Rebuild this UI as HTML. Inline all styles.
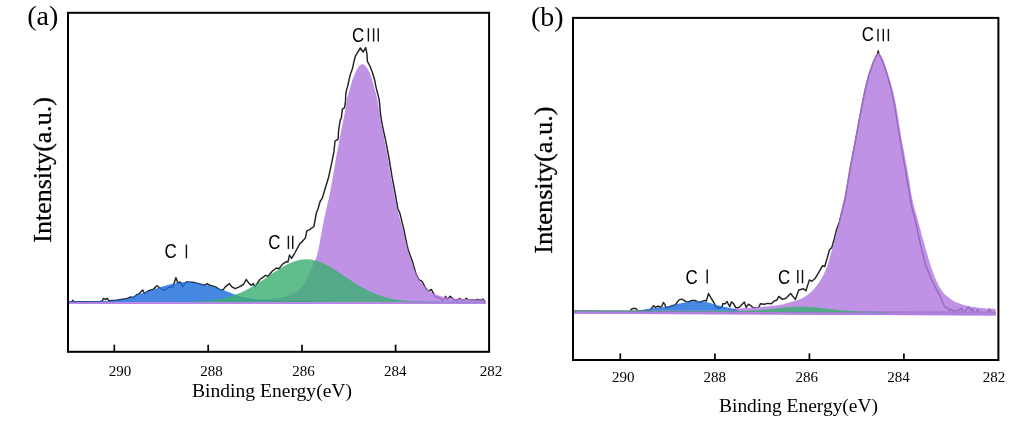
<!DOCTYPE html>
<html><head><meta charset="utf-8"><title>XPS C1s spectra</title>
<style>html,body{margin:0;padding:0;background:#fff;}svg{display:block;}text{fill:#000;}</style>
</head><body>
<svg width="1020" height="425" viewBox="0 0 1020 425">
<rect x="0" y="0" width="1020" height="425" fill="#ffffff"/>
<polyline points="69.0,301.9 72.0,301.8 72.7,300.2 73.6,301.8 99.5,301.8 102.3,301.0 103.5,298.4 105.2,299.5 107.3,298.4 108.7,300.6 116.4,300.2 126.3,298.8 130.6,297.0 133.4,297.8 136.9,294.6 139.0,293.9 142.6,289.9 144.7,293.9 147.5,291.3 150.3,290.3 153.1,289.4 157.1,285.7 160.2,288.2 164.4,290.3 168.7,287.5 172.9,286.8 176.0,277.6 177.8,283.3 180.0,281.9 182.8,286.8 186.3,281.9 192.7,282.3 196.5,283.2 204.7,285.3 207.2,283.6 209.6,285.3 215.4,286.9 219.5,289.4 222.8,290.2 225.3,286.9 229.4,283.6 231.9,286.9 235.2,288.6 239.3,286.9 243.4,284.5 246.2,279.5 249.2,283.6 251.6,285.3 253.3,283.6 254.9,286.9 259.9,279.5 265.6,275.4 268.1,276.2 272.2,271.3 276.4,268.0 278.8,268.8 282.9,263.9 286.4,261.6 287.9,262.2 289.5,255.1 291.6,258.3 294.8,253.0 298.6,245.8 300.1,243.4 302.2,241.6 305.4,238.1 306.8,230.9 309.7,229.7 313.9,226.5 316.4,212.7 318.1,208.5 320.1,201.5 322.2,198.4 325.4,187.8 328.6,177.2 331.8,162.4 333.9,151.8 335.0,141.2 338.1,139.1 338.6,130.6 340.2,120.0 341.3,118.4 342.4,108.8 344.5,107.8 345.5,101.4 345.8,93.6 346.7,89.4 347.6,86.6 349.1,79.5 350.5,73.9 352.6,68.2 354.0,61.2 355.4,56.2 358.2,51.3 360.4,48.0 363.2,52.0 365.7,47.6 367.0,54.1 367.4,61.2 370.2,66.8 372.4,72.5 374.5,79.5 375.9,86.6 377.7,93.6 379.1,99.3 379.6,103.5 380.5,114.1 382.2,124.7 385.8,141.2 389.0,158.1 392.1,177.2 395.3,194.1 397.9,209.0 399.7,212.7 403.9,229.7 407.1,245.5 408.2,249.8 412.4,261.4 416.3,274.7 418.8,279.6 422.1,281.3 425.0,287.1 428.4,291.2 431.5,289.5 433.6,293.6 435.3,297.0 440.8,298.4 442.2,300.4 444.6,298.7 445.6,296.3 447.0,299.4 448.7,298.0 450.0,296.3 452.5,298.4 453.8,300.4 457.9,300.1 459.7,298.4 460.7,299.8 464.8,299.8 466.5,298.2 467.9,299.8 476.5,300.0 477.8,299.3 479.2,300.0 481.6,300.0 483.0,299.1 484.7,301.5" fill="none" stroke="#222222" stroke-width="1.45" stroke-linejoin="round" stroke-linecap="round"/>
<polygon points="68.5,304.0 68.5,302.1 69.5,302.1 70.5,302.1 71.5,302.1 72.5,302.1 73.5,302.1 74.5,302.1 75.5,302.1 76.5,302.1 77.5,302.1 78.5,302.1 79.5,302.1 80.5,302.1 81.5,302.1 82.5,302.1 83.5,302.1 84.5,302.1 85.5,302.1 86.5,302.1 87.5,302.1 88.5,302.1 89.5,302.1 90.5,302.1 91.5,302.1 92.5,302.1 93.5,302.1 94.5,302.1 95.5,302.1 96.5,302.1 97.5,302.1 98.5,302.1 99.5,302.1 100.5,302.1 101.5,302.1 102.5,302.1 103.5,302.1 104.5,302.1 105.5,302.1 106.5,302.1 107.5,302.1 108.5,302.1 109.5,302.1 110.5,302.1 111.5,302.1 112.5,302.1 113.5,302.1 114.5,302.1 115.5,302.1 116.5,302.1 117.5,302.1 118.5,302.1 119.5,302.1 120.5,302.1 121.5,302.1 122.5,302.1 123.5,302.1 124.5,302.1 125.5,302.1 126.5,302.1 127.5,302.1 128.5,302.1 129.5,302.1 130.5,302.1 131.5,302.1 132.5,302.1 133.5,302.1 134.5,302.1 135.5,302.1 136.5,302.1 137.5,302.1 138.5,302.1 139.5,302.1 140.5,302.1 141.5,302.1 142.5,302.1 143.5,302.1 144.5,302.1 145.5,302.1 146.5,302.1 147.5,302.1 148.5,302.1 149.5,302.1 150.5,302.1 151.5,302.1 152.5,302.1 153.5,302.1 154.5,302.1 155.5,302.1 156.5,302.1 157.5,302.1 158.5,302.1 159.5,302.1 160.5,302.1 161.5,302.1 162.5,302.1 163.5,302.1 164.5,302.1 165.5,302.1 166.5,302.1 167.5,302.1 168.5,302.1 169.5,302.1 170.5,302.1 171.5,302.1 172.5,302.1 173.5,302.1 174.5,302.1 175.5,302.1 176.5,302.1 177.5,302.1 178.5,302.0 179.5,302.0 180.5,302.0 181.5,302.0 182.5,302.0 183.5,302.0 184.5,302.0 185.5,302.0 186.5,302.0 187.5,302.0 188.5,302.0 189.5,302.0 190.5,302.0 191.5,302.0 192.5,302.0 193.5,302.0 194.5,302.0 195.5,302.0 196.5,302.0 197.5,302.0 198.5,302.0 199.5,301.9 200.5,301.9 201.5,301.9 202.5,301.9 203.5,301.9 204.5,301.9 205.5,301.9 206.5,301.9 207.5,301.9 208.5,301.9 209.5,301.9 210.5,301.9 211.5,301.9 212.5,301.9 213.5,301.9 214.5,301.8 215.5,301.8 216.5,301.8 217.5,301.8 218.5,301.8 219.5,301.8 220.5,301.8 221.5,301.8 222.5,301.8 223.5,301.8 224.5,301.7 225.5,301.7 226.5,301.7 227.5,301.7 228.5,301.7 229.5,301.6 230.5,301.6 231.5,301.6 232.5,301.5 233.5,301.5 234.5,301.5 235.5,301.4 236.5,301.4 237.5,301.4 238.5,301.3 239.5,301.3 240.5,301.2 241.5,301.2 242.5,301.2 243.5,301.1 244.5,301.1 245.5,301.0 246.5,301.0 247.5,300.9 248.5,300.9 249.5,300.8 250.5,300.8 251.5,300.7 252.5,300.7 253.5,300.6 254.5,300.5 255.5,300.5 256.5,300.4 257.5,300.3 258.5,300.2 259.5,300.2 260.5,300.1 261.5,300.0 262.5,299.9 263.5,299.8 264.5,299.7 265.5,299.6 266.5,299.5 267.5,299.4 268.5,299.2 269.5,299.1 270.5,299.0 271.5,298.9 272.5,298.8 273.5,298.6 274.5,298.5 275.5,298.3 276.5,298.2 277.5,298.0 278.5,297.8 279.5,297.7 280.5,297.5 281.5,297.3 282.5,297.1 283.5,296.8 284.5,296.6 285.5,296.4 286.5,296.1 287.5,295.9 288.5,295.6 289.5,295.3 290.5,294.9 291.5,294.5 292.5,294.1 293.5,293.6 294.5,293.1 295.5,292.6 296.5,292.0 297.5,291.2 298.5,290.4 299.5,289.4 300.5,288.4 301.5,287.3 302.5,286.0 303.5,284.6 304.5,282.9 305.5,281.2 306.5,279.3 307.5,277.4 308.5,275.3 309.5,272.9 310.5,270.5 311.5,268.2 312.5,266.0 313.5,264.1 314.5,262.1 315.5,259.8 316.5,257.0 317.5,253.3 318.5,249.0 319.5,243.9 320.5,238.3 321.5,232.8 322.5,227.4 323.5,221.9 324.5,216.9 325.5,212.5 326.5,208.3 327.5,204.1 328.5,199.7 329.5,195.1 330.5,190.0 331.5,184.6 332.5,178.9 333.5,173.1 334.5,167.0 335.5,161.0 336.5,155.3 337.5,150.0 338.5,144.8 339.5,139.6 340.5,134.4 341.5,129.1 342.5,124.0 343.5,119.1 344.5,114.2 345.5,108.7 346.5,101.6 347.5,96.8 348.5,93.2 349.5,89.9 350.5,86.6 351.5,83.1 352.5,79.8 353.5,77.0 354.5,74.5 355.5,72.3 356.5,70.3 357.5,68.6 358.5,67.1 359.5,65.8 360.5,64.9 361.5,64.2 362.5,64.0 363.5,64.4 364.5,65.1 365.5,66.0 366.5,67.2 367.5,68.7 368.5,70.5 369.5,72.5 370.5,74.9 371.5,77.7 372.5,80.9 373.5,84.7 374.5,88.4 375.5,92.1 376.5,95.9 377.5,100.3 378.5,106.7 379.5,112.9 380.5,118.8 381.5,124.5 382.5,129.9 383.5,135.0 384.5,140.2 385.5,145.4 386.5,150.6 387.5,155.9 388.5,161.6 389.5,167.7 390.5,173.7 391.5,179.4 392.5,184.8 393.5,190.0 394.5,195.1 395.5,200.1 396.5,205.0 397.5,209.4 398.5,213.5 399.5,217.2 400.5,220.9 401.5,224.5 402.5,228.2 403.5,232.1 404.5,236.2 405.5,240.3 406.5,244.3 407.5,248.1 408.5,251.9 409.5,255.5 410.5,258.9 411.5,262.0 412.5,264.7 413.5,267.2 414.5,269.5 415.5,271.8 416.5,274.0 417.5,276.2 418.5,278.2 419.5,280.0 420.5,281.5 421.5,282.9 422.5,284.1 423.5,285.2 424.5,286.3 425.5,287.3 426.5,288.3 427.5,289.2 428.5,290.0 429.5,290.8 430.5,291.6 431.5,292.3 432.5,292.9 433.5,293.5 434.5,294.0 435.5,294.4 436.5,294.8 437.5,295.2 438.5,295.5 439.5,295.8 440.5,296.1 441.5,296.4 442.5,296.6 443.5,296.8 444.5,297.0 445.5,297.2 446.5,297.3 447.5,297.5 448.5,297.6 449.5,297.8 450.5,297.9 451.5,298.0 452.5,298.1 453.5,298.2 454.5,298.3 455.5,298.4 456.5,298.5 457.5,298.6 458.5,298.6 459.5,298.7 460.5,298.8 461.5,298.8 462.5,298.9 463.5,298.9 464.5,298.9 465.5,299.0 466.5,299.0 467.5,299.1 468.5,299.1 469.5,299.2 470.5,299.2 471.5,299.2 472.5,299.3 473.5,299.3 474.5,299.3 475.5,299.4 476.5,299.4 477.5,299.4 478.5,299.5 479.5,299.5 480.5,299.5 481.5,299.5 482.5,299.6 483.5,299.6 485.9,302.6 485.9,304.0" fill="#b17ae1" fill-opacity="0.82"/>
<line x1="68.7" y1="303.1" x2="485.6" y2="303.1" stroke="#b17ae1" stroke-opacity="0.55" stroke-width="1.9"/>
<polygon points="68.5,302.1 68.5,301.2 69.5,301.2 70.5,301.2 71.5,301.2 72.5,301.2 73.5,301.2 74.5,301.2 75.5,301.2 76.5,301.2 77.5,301.2 78.5,301.2 79.5,301.2 80.5,301.2 81.5,301.2 82.5,301.2 83.5,301.2 84.5,301.2 85.5,301.2 86.5,301.2 87.5,301.2 88.5,301.2 89.5,301.2 90.5,301.2 91.5,301.1 92.5,301.1 93.5,301.1 94.5,301.1 95.5,301.1 96.5,301.1 97.5,301.1 98.5,301.1 99.5,301.1 100.5,301.1 101.5,301.1 102.5,301.1 103.5,301.0 104.5,301.0 105.5,301.0 106.5,300.9 107.5,300.9 108.5,300.8 109.5,300.8 110.5,300.7 111.5,300.7 112.5,300.6 113.5,300.5 114.5,300.4 115.5,300.3 116.5,300.2 117.5,300.1 118.5,299.9 119.5,299.8 120.5,299.7 121.5,299.6 122.5,299.4 123.5,299.3 124.5,299.1 125.5,299.0 126.5,298.8 127.5,298.5 128.5,298.2 129.5,297.8 130.5,297.4 131.5,297.0 132.5,296.6 133.5,296.1 134.5,295.7 135.5,295.3 136.5,294.9 137.5,294.6 138.5,294.3 139.5,294.0 140.5,293.7 141.5,293.4 142.5,293.1 143.5,292.8 144.5,292.5 145.5,292.2 146.5,291.9 147.5,291.6 148.5,291.3 149.5,290.9 150.5,290.6 151.5,290.2 152.5,289.8 153.5,289.4 154.5,289.1 155.5,288.7 156.5,288.4 157.5,288.0 158.5,287.7 159.5,287.4 160.5,287.1 161.5,286.8 162.5,286.5 163.5,286.2 164.5,285.9 165.5,285.6 166.5,285.4 167.5,285.1 168.5,284.8 169.5,284.6 170.5,284.3 171.5,284.1 172.5,283.9 173.5,283.7 174.5,283.5 175.5,283.2 176.5,283.0 177.5,282.9 178.5,282.7 179.5,282.6 180.5,282.4 181.5,282.3 182.5,282.2 183.5,282.2 184.5,282.1 185.5,282.0 186.5,282.0 187.5,282.0 188.5,282.0 189.5,282.1 190.5,282.2 191.5,282.3 192.5,282.4 193.5,282.6 194.5,282.7 195.5,282.9 196.5,283.0 197.5,283.2 198.5,283.3 199.5,283.6 200.5,283.8 201.5,284.0 202.5,284.3 203.5,284.5 204.5,284.8 205.5,285.0 206.5,285.2 207.5,285.5 208.5,285.7 209.5,286.0 210.5,286.2 211.5,286.5 212.5,286.8 213.5,287.0 214.5,287.3 215.5,287.6 216.5,287.9 217.5,288.2 218.5,288.5 219.5,288.8 220.5,289.2 221.5,289.5 222.5,289.8 223.5,290.2 224.5,290.6 225.5,290.9 226.5,291.3 227.5,291.7 228.5,292.1 229.5,292.4 230.5,292.8 231.5,293.3 232.5,293.7 233.5,294.1 234.5,294.4 235.5,294.8 236.5,295.1 237.5,295.5 238.5,295.8 239.5,296.1 240.5,296.4 241.5,296.7 242.5,297.0 243.5,297.2 244.5,297.4 245.5,297.6 246.5,297.8 247.5,298.0 248.5,298.1 249.5,298.3 250.5,298.4 251.5,298.5 252.5,298.7 253.5,298.8 254.5,298.9 255.5,299.0 256.5,299.1 257.5,299.2 258.5,299.3 259.5,299.4 260.5,299.5 261.5,299.6 262.5,299.6 263.5,299.7 264.5,299.8 265.5,299.8 266.5,299.9 267.5,300.0 268.5,300.0 269.5,300.1 270.5,300.1 271.5,300.2 272.5,300.2 273.5,300.3 274.5,300.3 275.5,300.4 276.5,300.4 277.5,300.4 278.5,300.5 279.5,300.5 280.5,300.5 281.5,300.6 282.5,300.6 283.5,300.6 284.5,300.7 285.5,300.7 286.5,300.7 287.5,300.7 288.5,300.8 289.5,300.8 290.5,300.8 291.5,300.8 292.5,300.8 293.5,300.9 294.5,300.9 295.5,300.9 296.5,300.9 297.5,300.9 298.5,301.0 299.5,301.0 300.5,301.0 301.5,301.0 302.5,301.1 303.5,301.1 304.5,301.1 305.5,301.1 306.5,301.1 307.5,301.2 308.5,301.2 309.5,301.2 310.5,301.2 311.5,301.2 312.5,301.3 313.5,301.3 314.5,301.3 315.5,301.3 316.5,301.3 317.5,301.3 318.5,301.4 319.5,301.4 320.5,301.4 321.5,301.4 322.5,301.4 323.5,301.5 324.5,301.5 325.5,301.5 326.5,301.5 327.5,301.5 328.5,301.6 329.5,301.6 330.5,301.6 331.5,301.6 332.5,301.7 333.5,301.7 334.5,301.7 335.5,301.7 336.5,301.8 337.5,301.8 338.5,301.8 339.5,301.8 340.5,301.9 341.5,301.9 342.5,301.9 343.5,301.9 344.5,302.0 345.5,302.0 346.5,302.0 347.5,302.0 348.5,302.1 349.5,302.1 349.5,302.1" fill="#1d6ddc" fill-opacity="0.82"/>
<polygon points="170.0,302.1 170.0,302.0 171.0,302.0 172.0,302.0 173.0,302.0 174.0,302.0 175.0,302.0 176.0,302.0 177.0,302.0 178.0,302.0 179.0,301.9 180.0,301.9 181.0,301.9 182.0,301.9 183.0,301.9 184.0,301.9 185.0,301.8 186.0,301.8 187.0,301.8 188.0,301.8 189.0,301.7 190.0,301.7 191.0,301.7 192.0,301.6 193.0,301.6 194.0,301.6 195.0,301.5 196.0,301.5 197.0,301.4 198.0,301.4 199.0,301.3 200.0,301.3 201.0,301.2 202.0,301.1 203.0,301.1 204.0,301.0 205.0,300.9 206.0,300.8 207.0,300.7 208.0,300.6 209.0,300.5 210.0,300.4 211.0,300.3 212.0,300.2 213.0,300.0 214.0,299.9 215.0,299.7 216.0,299.6 217.0,299.4 218.0,299.3 219.0,299.1 220.0,298.9 221.0,298.7 222.0,298.5 223.0,298.3 224.0,298.0 225.0,297.8 226.0,297.6 227.0,297.3 228.0,297.0 229.0,296.8 230.0,296.5 231.0,296.2 232.0,295.8 233.0,295.5 234.0,295.2 235.0,294.8 236.0,294.4 237.0,294.1 238.0,293.7 239.0,293.3 240.0,292.8 241.0,292.4 242.0,292.0 243.0,291.5 244.0,291.0 245.0,290.5 246.0,290.0 247.0,289.5 248.0,289.0 249.0,288.5 250.0,287.9 251.0,287.4 252.0,286.8 253.0,286.2 254.0,285.6 255.0,285.0 256.0,284.4 257.0,283.8 258.0,283.1 259.0,282.5 260.0,281.9 261.0,281.2 262.0,280.5 263.0,279.9 264.0,279.2 265.0,278.5 266.0,277.8 267.0,277.2 268.0,276.5 269.0,275.8 270.0,275.1 271.0,274.4 272.0,273.8 273.0,273.1 274.0,272.4 275.0,271.7 276.0,271.1 277.0,270.4 278.0,269.8 279.0,269.2 280.0,268.5 281.0,267.9 282.0,267.3 283.0,266.7 284.0,266.2 285.0,265.6 286.0,265.1 287.0,264.6 288.0,264.1 289.0,263.6 290.0,263.2 291.0,262.7 292.0,262.3 293.0,261.9 294.0,261.6 295.0,261.2 296.0,260.9 297.0,260.6 298.0,260.4 299.0,260.1 300.0,259.9 301.0,259.7 302.0,259.6 303.0,259.5 304.0,259.4 305.0,259.3 306.0,259.3 307.0,259.3 308.0,259.3 309.0,259.4 310.0,259.5 311.0,259.6 312.0,259.7 313.0,259.9 314.0,260.1 315.0,260.4 316.0,260.6 317.0,260.9 318.0,261.2 319.0,261.6 320.0,261.9 321.0,262.3 322.0,262.7 323.0,263.2 324.0,263.6 325.0,264.1 326.0,264.6 327.0,265.1 328.0,265.6 329.0,266.2 330.0,266.7 331.0,267.3 332.0,267.9 333.0,268.5 334.0,269.2 335.0,269.8 336.0,270.4 337.0,271.1 338.0,271.7 339.0,272.4 340.0,273.1 341.0,273.8 342.0,274.4 343.0,275.1 344.0,275.8 345.0,276.5 346.0,277.2 347.0,277.8 348.0,278.5 349.0,279.2 350.0,279.9 351.0,280.5 352.0,281.2 353.0,281.9 354.0,282.5 355.0,283.1 356.0,283.8 357.0,284.4 358.0,285.0 359.0,285.6 360.0,286.2 361.0,286.8 362.0,287.4 363.0,287.9 364.0,288.5 365.0,289.0 366.0,289.5 367.0,290.0 368.0,290.5 369.0,291.0 370.0,291.5 371.0,292.0 372.0,292.4 373.0,292.8 374.0,293.3 375.0,293.7 376.0,294.1 377.0,294.4 378.0,294.8 379.0,295.2 380.0,295.5 381.0,295.8 382.0,296.2 383.0,296.5 384.0,296.8 385.0,297.0 386.0,297.3 387.0,297.6 388.0,297.8 389.0,298.0 390.0,298.3 391.0,298.5 392.0,298.7 393.0,298.9 394.0,299.1 395.0,299.3 396.0,299.4 397.0,299.6 398.0,299.7 399.0,299.9 400.0,300.0 401.0,300.2 402.0,300.3 403.0,300.4 404.0,300.5 405.0,300.6 406.0,300.7 407.0,300.8 408.0,300.9 409.0,301.0 410.0,301.1 411.0,301.1 412.0,301.2 413.0,301.3 414.0,301.3 415.0,301.4 416.0,301.4 417.0,301.5 418.0,301.5 419.0,301.6 420.0,301.6 421.0,301.6 422.0,301.7 423.0,301.7 424.0,301.7 425.0,301.8 426.0,301.8 427.0,301.8 428.0,301.8 429.0,301.9 430.0,301.9 431.0,301.9 432.0,301.9 433.0,301.9 434.0,301.9 435.0,302.0 436.0,302.0 437.0,302.0 438.0,302.0 439.0,302.0 440.0,302.0 441.0,302.0 442.0,302.0 443.0,302.0 444.0,302.0 445.0,302.0 446.0,302.0 447.0,302.1 448.0,302.1 449.0,302.1 450.0,302.1 451.0,302.1 452.0,302.1 453.0,302.1 454.0,302.1 455.0,302.1 456.0,302.1 457.0,302.1 458.0,302.1 459.0,302.1 460.0,302.1 460.0,302.1" fill="#3cb073" fill-opacity="0.82"/>
<line x1="405" y1="302.1" x2="485.2" y2="302.1" stroke="#7d84c4" stroke-opacity="0.45" stroke-width="2"/>
<rect x="68.0" y="12.8" width="421.1" height="339.0" fill="none" stroke="#000" stroke-width="2"/>
<line x1="114.3" y1="351.8" x2="114.3" y2="344.7" stroke="#000" stroke-width="1.7"/>
<line x1="208.2" y1="351.8" x2="208.2" y2="344.7" stroke="#000" stroke-width="1.7"/>
<line x1="302.0" y1="351.8" x2="302.0" y2="344.7" stroke="#000" stroke-width="1.7"/>
<line x1="395.6" y1="351.8" x2="395.6" y2="344.7" stroke="#000" stroke-width="1.7"/>
<polyline points="630.4,310.9 631.3,309.3 632.8,308.4 635.6,308.4 636.8,309.5 637.6,311.0 649.5,311.0 650.9,309.2 653.6,305.8 655.6,307.4 658.3,306.0 659.9,307.4 661.9,306.2 663.4,302.4 665.0,304.6 665.8,307.7 668.9,307.0 672.1,305.8 675.2,305.0 677.2,302.3 679.1,299.9 681.5,299.1 683.8,300.1 685.8,301.6 688.5,301.9 691.7,300.5 694.8,300.5 697.9,301.9 700.3,302.4 702.6,301.1 705.0,300.4 706.3,301.1 708.5,293.5 711.0,297.9 714.1,303.0 715.7,307.0 718.8,308.1 722.0,307.4 722.7,303.8 725.1,303.7 727.1,301.5 728.2,303.8 729.8,306.6 731.4,301.9 733.7,303.8 735.7,307.7 738.4,307.7 740.8,305.8 744.3,302.1 746.3,307.4 748.6,304.2 751.0,305.8 753.3,307.7 758.8,307.4 760.4,303.8 764.3,304.2 767.5,303.4 771.4,303.8 774.5,300.7 776.6,300.3 778.8,296.4 782.4,299.4 785.9,298.2 790.6,293.5 795.3,299.4 798.8,290.0 803.5,288.8 805.9,290.7 809.4,279.9 811.8,281.3 815.3,278.2 818.8,272.4 822.4,265.8 824.7,266.5 827.5,257.1 829.4,250.0 831.8,247.6 834.1,239.4 836.5,230.0 839.4,222.0 841.4,214.0 843.6,206.0 845.2,198.5 847.6,184.5 849.9,170.5 853.5,151.5 857.0,132.8 860.0,116.5 862.4,104.0 865.2,90.0 868.7,76.0 873.5,62.0 877.6,53.5 878.2,50.8 878.8,53.5 883.1,62.4 887.6,76.5 891.4,90.6 894.4,104.7 896.7,118.8 899.1,133.5 902.3,152.4 905.6,171.2 908.0,185.3 911.6,206.1 916.2,224.5 920.8,245.9 925.3,264.2 931.5,279.5 937.6,291.7 939.6,295.0 941.8,300.1 944.7,306.8 947.6,307.9 949.5,310.8 951.3,309.0 954.3,312.3 955.7,310.4 959.4,310.1 961.6,308.2 963.1,312.6 965.3,310.8 968.2,307.1 971.2,310.4 972.6,309.3 974.5,313.0 976.3,312.6 977.6,309.3 979.3,312.6 986.6,312.6 989.6,309.3 991.8,312.6 994.7,312.8" fill="none" stroke="#222222" stroke-width="1.45" stroke-linejoin="round" stroke-linecap="round"/>
<line x1="573.9" y1="310.89" x2="995.8" y2="312.60" stroke="#6f8f9b" stroke-width="2"/>
<line x1="573.9" y1="312.79" x2="995.8" y2="314.50" stroke="#b98ae0" stroke-width="2"/>
<polygon points="573.5,313.8 573.5,311.8 574.5,311.8 575.5,311.8 576.5,311.8 577.5,311.8 578.5,311.8 579.5,311.8 580.5,311.8 581.5,311.8 582.5,311.8 583.5,311.8 584.5,311.8 585.5,311.9 586.5,311.9 587.5,311.9 588.5,311.9 589.5,311.9 590.5,311.9 591.5,311.9 592.5,311.9 593.5,311.9 594.5,311.9 595.5,311.9 596.5,311.9 597.5,311.9 598.5,311.9 599.5,311.9 600.5,311.9 601.5,311.9 602.5,311.9 603.5,311.9 604.5,311.9 605.5,311.9 606.5,312.0 607.5,312.0 608.5,312.0 609.5,312.0 610.5,312.0 611.5,312.0 612.5,312.0 613.5,312.0 614.5,312.0 615.5,312.0 616.5,312.0 617.5,312.0 618.5,312.0 619.5,312.0 620.5,312.0 621.5,312.0 622.5,312.0 623.5,312.0 624.5,312.0 625.5,312.0 626.5,312.0 627.5,312.0 628.5,312.0 629.5,312.0 630.5,312.0 631.5,312.0 632.5,312.0 633.5,312.1 634.5,312.1 635.5,312.1 636.5,312.1 637.5,312.1 638.5,312.1 639.5,312.1 640.5,312.1 641.5,312.1 642.5,312.1 643.5,312.1 644.5,312.1 645.5,312.1 646.5,312.1 647.5,312.1 648.5,312.1 649.5,312.1 650.5,312.1 651.5,312.1 652.5,312.1 653.5,312.1 654.5,312.1 655.5,312.1 656.5,312.1 657.5,312.1 658.5,312.1 659.5,312.1 660.5,312.1 661.5,312.1 662.5,312.1 663.5,312.1 664.5,312.1 665.5,312.1 666.5,312.1 667.5,312.2 668.5,312.2 669.5,312.2 670.5,312.2 671.5,312.2 672.5,312.2 673.5,312.2 674.5,312.2 675.5,312.2 676.5,312.2 677.5,312.2 678.5,312.2 679.5,312.2 680.5,312.2 681.5,312.2 682.5,312.2 683.5,312.2 684.5,312.2 685.5,312.2 686.5,312.2 687.5,312.2 688.5,312.2 689.5,312.2 690.5,312.2 691.5,312.2 692.5,312.2 693.5,312.2 694.5,312.2 695.5,312.2 696.5,312.2 697.5,312.2 698.5,312.2 699.5,312.2 700.5,312.2 701.5,312.2 702.5,312.2 703.5,312.2 704.5,312.2 705.5,312.2 706.5,312.2 707.5,312.2 708.5,312.1 709.5,312.1 710.5,312.1 711.5,312.1 712.5,312.1 713.5,312.0 714.5,312.0 715.5,312.0 716.5,311.9 717.5,311.9 718.5,311.9 719.5,311.8 720.5,311.8 721.5,311.8 722.5,311.7 723.5,311.7 724.5,311.6 725.5,311.6 726.5,311.5 727.5,311.3 728.5,311.0 729.5,310.8 730.5,310.5 731.5,310.1 732.5,309.8 733.5,309.5 734.5,309.2 735.5,309.0 736.5,308.8 737.5,308.6 738.5,308.5 739.5,308.4 740.5,308.3 741.5,308.3 742.5,308.2 743.5,308.1 744.5,308.1 745.5,308.0 746.5,307.9 747.5,307.9 748.5,307.8 749.5,307.7 750.5,307.7 751.5,307.6 752.5,307.5 753.5,307.5 754.5,307.4 755.5,307.3 756.5,307.3 757.5,307.2 758.5,307.1 759.5,307.0 760.5,307.0 761.5,306.9 762.5,306.8 763.5,306.7 764.5,306.6 765.5,306.5 766.5,306.4 767.5,306.3 768.5,306.2 769.5,306.1 770.5,306.0 771.5,305.9 772.5,305.8 773.5,305.7 774.5,305.6 775.5,305.5 776.5,305.4 777.5,305.3 778.5,305.1 779.5,305.0 780.5,304.8 781.5,304.6 782.5,304.4 783.5,304.2 784.5,303.9 785.5,303.6 786.5,303.3 787.5,303.0 788.5,302.7 789.5,302.4 790.5,302.1 791.5,301.8 792.5,301.5 793.5,301.2 794.5,300.9 795.5,300.7 796.5,300.4 797.5,300.1 798.5,299.7 799.5,299.4 800.5,299.0 801.5,298.6 802.5,298.1 803.5,297.6 804.5,297.0 805.5,296.3 806.5,295.6 807.5,294.9 808.5,294.1 809.5,293.3 810.5,292.4 811.5,291.5 812.5,290.5 813.5,289.5 814.5,288.4 815.5,287.2 816.5,285.9 817.5,284.6 818.5,283.2 819.5,281.8 820.5,280.2 821.5,278.6 822.5,276.8 823.5,274.7 824.5,272.5 825.5,270.3 826.5,268.0 827.5,265.3 828.5,262.1 829.5,258.4 830.5,254.8 831.5,251.4 832.5,248.1 833.5,244.6 834.5,241.1 835.5,237.5 836.5,233.6 837.5,229.3 838.5,224.5 839.5,219.5 840.5,214.0 841.5,208.7 842.5,204.2 843.5,200.8 844.5,196.6 845.5,191.2 846.5,185.3 847.5,179.2 848.5,172.9 849.5,167.3 850.5,162.1 851.5,157.1 852.5,151.9 853.5,146.5 854.5,141.1 855.5,135.7 856.5,130.2 857.5,124.7 858.5,119.2 859.5,113.9 860.5,108.8 861.5,103.7 862.5,98.5 863.5,93.4 864.5,88.8 865.5,84.5 866.5,80.5 867.5,76.8 868.5,73.5 869.5,70.4 870.5,67.5 871.5,64.8 872.5,62.1 873.5,59.6 874.5,57.4 875.5,55.5 876.5,54.1 877.5,53.3 878.5,53.1 879.5,53.8 880.5,54.8 881.5,56.6 882.5,58.6 883.5,60.9 884.5,63.4 885.5,66.2 886.5,69.2 887.5,72.3 888.5,75.5 889.5,78.8 890.5,82.1 891.5,85.7 892.5,89.4 893.5,93.5 894.5,97.9 895.5,102.7 896.5,107.9 897.5,113.7 898.5,119.9 899.5,126.5 900.5,132.9 901.5,138.6 902.5,144.0 903.5,149.2 904.5,154.5 905.5,159.8 906.5,165.2 907.5,170.6 908.5,176.4 909.5,182.3 910.5,188.4 911.5,194.9 912.5,200.3 913.5,204.4 914.5,208.1 915.5,211.7 916.5,215.2 917.5,218.8 918.5,222.5 919.5,226.2 920.5,230.0 921.5,233.8 922.5,237.4 923.5,241.1 924.5,244.7 925.5,248.2 926.5,251.7 927.5,255.1 928.5,258.4 929.5,261.7 930.5,264.9 931.5,268.0 932.5,271.0 933.5,273.8 934.5,276.4 935.5,278.7 936.5,281.0 937.5,283.1 938.5,285.0 939.5,286.9 940.5,288.5 941.5,290.1 942.5,291.6 943.5,292.9 944.5,294.0 945.5,294.9 946.5,295.7 947.5,296.5 948.5,297.3 949.5,298.1 950.5,298.9 951.5,299.7 952.5,300.3 953.5,300.9 954.5,301.4 955.5,301.9 956.5,302.4 957.5,302.8 958.5,303.2 959.5,303.5 960.5,303.9 961.5,304.2 962.5,304.5 963.5,304.8 964.5,305.1 965.5,305.4 966.5,305.6 967.5,305.9 968.5,306.1 969.5,306.3 970.5,306.5 971.5,306.7 972.5,306.8 973.5,307.0 974.5,307.2 975.5,307.3 976.5,307.5 977.5,307.6 978.5,307.8 979.5,307.9 980.5,308.0 981.5,308.1 982.5,308.2 983.5,308.3 984.5,308.3 985.5,308.4 986.5,308.5 987.5,308.5 988.5,308.6 989.5,308.6 990.5,308.7 991.5,308.7 992.5,308.7 993.5,308.8 994.5,308.8 995.5,308.8 995.5,315.5" fill="#b17ae1" fill-opacity="0.82"/>
<polygon points="641.0,310.4 641.0,310.4 642.0,310.0 643.0,309.7 644.0,309.5 645.0,309.3 646.0,309.1 647.0,309.0 648.0,308.9 649.0,308.7 650.0,308.6 651.0,308.5 652.0,308.4 653.0,308.2 654.0,308.1 655.0,308.0 656.0,307.9 657.0,307.8 658.0,307.7 659.0,307.6 660.0,307.4 661.0,307.3 662.0,307.2 663.0,307.1 664.0,306.9 665.0,306.8 666.0,306.7 667.0,306.5 668.0,306.4 669.0,306.2 670.0,306.0 671.0,305.7 672.0,305.4 673.0,305.2 674.0,304.9 675.0,304.6 676.0,304.4 677.0,304.1 678.0,303.9 679.0,303.6 680.0,303.4 681.0,303.2 682.0,303.1 683.0,302.9 684.0,302.7 685.0,302.5 686.0,302.3 687.0,302.1 688.0,301.9 689.0,301.7 690.0,301.5 691.0,301.4 692.0,301.3 693.0,301.3 694.0,301.2 695.0,301.2 696.0,301.2 697.0,301.2 698.0,301.2 699.0,301.3 700.0,301.3 701.0,301.4 702.0,301.5 703.0,301.6 704.0,301.7 705.0,301.8 706.0,302.0 707.0,302.2 708.0,302.4 709.0,302.6 710.0,302.9 711.0,303.2 712.0,303.5 713.0,303.9 714.0,304.2 715.0,304.5 716.0,304.8 717.0,305.0 718.0,305.3 719.0,305.5 720.0,305.8 721.0,306.0 722.0,306.2 723.0,306.5 724.0,306.7 725.0,306.9 726.0,307.1 727.0,307.3 728.0,307.5 729.0,307.7 730.0,308.0 731.0,308.2 732.0,308.4 733.0,308.6 734.0,308.9 735.0,309.2 736.0,309.5 737.0,309.9 738.0,310.3 739.0,310.8 739.0,310.8" fill="#1d6ddc" fill-opacity="0.82"/>
<polygon points="715.0,311.9 715.0,311.3 716.0,311.3 717.0,311.3 718.0,311.3 719.0,311.3 720.0,311.3 721.0,311.3 722.0,311.3 723.0,311.3 724.0,311.3 725.0,311.3 726.0,311.3 727.0,311.3 728.0,311.3 729.0,311.3 730.0,311.3 731.0,311.3 732.0,311.3 733.0,311.2 734.0,311.2 735.0,311.2 736.0,311.2 737.0,311.2 738.0,311.1 739.0,311.1 740.0,311.1 741.0,311.1 742.0,311.0 743.0,311.0 744.0,311.0 745.0,310.9 746.0,310.9 747.0,310.8 748.0,310.8 749.0,310.7 750.0,310.7 751.0,310.6 752.0,310.6 753.0,310.5 754.0,310.5 755.0,310.4 756.0,310.3 757.0,310.3 758.0,310.2 759.0,310.1 760.0,310.0 761.0,309.9 762.0,309.8 763.0,309.8 764.0,309.7 765.0,309.6 766.0,309.5 767.0,309.4 768.0,309.3 769.0,309.2 770.0,309.1 771.0,309.0 772.0,308.8 773.0,308.7 774.0,308.6 775.0,308.5 776.0,308.4 777.0,308.3 778.0,308.2 779.0,308.1 780.0,308.0 781.0,307.9 782.0,307.8 783.0,307.7 784.0,307.6 785.0,307.5 786.0,307.4 787.0,307.3 788.0,307.2 789.0,307.2 790.0,307.1 791.0,307.0 792.0,307.0 793.0,306.9 794.0,306.9 795.0,306.8 796.0,306.8 797.0,306.8 798.0,306.7 799.0,306.7 800.0,306.7 801.0,306.7 802.0,306.7 803.0,306.7 804.0,306.7 805.0,306.8 806.0,306.8 807.0,306.8 808.0,306.9 809.0,306.9 810.0,307.0 811.0,307.1 812.0,307.1 813.0,307.2 814.0,307.3 815.0,307.4 816.0,307.4 817.0,307.5 818.0,307.6 819.0,307.7 820.0,307.8 821.0,307.9 822.0,308.1 823.0,308.2 824.0,308.3 825.0,308.4 826.0,308.5 827.0,308.6 828.0,308.7 829.0,308.9 830.0,309.0 831.0,309.1 832.0,309.2 833.0,309.3 834.0,309.4 835.0,309.5 836.0,309.6 837.0,309.8 838.0,309.9 839.0,310.0 840.0,310.1 841.0,310.2 842.0,310.3 843.0,310.3 844.0,310.4 845.0,310.5 846.0,310.6 847.0,310.7 848.0,310.8 849.0,310.8 850.0,310.9 851.0,311.0 852.0,311.1 853.0,311.1 854.0,311.2 855.0,311.2 856.0,311.3 857.0,311.3 858.0,311.4 859.0,311.4 860.0,311.5 861.0,311.5 862.0,311.6 863.0,311.6 864.0,311.6 865.0,311.7 866.0,311.7 867.0,311.7 868.0,311.7 869.0,311.8 870.0,311.8 871.0,311.8 872.0,311.8 873.0,311.9 874.0,311.9 875.0,311.9 876.0,311.9 877.0,311.9 878.0,311.9 879.0,311.9 880.0,312.0 881.0,312.0 882.0,312.0 883.0,312.0 884.0,312.0 885.0,312.0 886.0,312.0 887.0,312.0 888.0,312.0 889.0,312.0 890.0,312.1 890.0,312.6" fill="#3cb073" fill-opacity="0.82"/>
<rect x="573" y="17.9" width="425.4" height="342.1" fill="none" stroke="#000" stroke-width="2"/>
<line x1="620.3" y1="360" x2="620.3" y2="353.4" stroke="#000" stroke-width="1.7"/>
<line x1="714.9" y1="360" x2="714.9" y2="353.4" stroke="#000" stroke-width="1.7"/>
<line x1="809.4" y1="360" x2="809.4" y2="353.4" stroke="#000" stroke-width="1.7"/>
<line x1="903.9" y1="360" x2="903.9" y2="353.4" stroke="#000" stroke-width="1.7"/>
<g style="filter:grayscale(1)">
<text x="27.3" y="25" font-family="Liberation Serif, serif" font-size="28">(a)</text>
<text x="530.9" y="26" font-family="Liberation Serif, serif" font-size="28">(b)</text>
<text x="120" y="376.2" font-family="Liberation Serif, serif" font-size="15" text-anchor="middle">290</text>
<text x="211.4" y="376.2" font-family="Liberation Serif, serif" font-size="15" text-anchor="middle">288</text>
<text x="303.6" y="376.2" font-family="Liberation Serif, serif" font-size="15" text-anchor="middle">286</text>
<text x="395.2" y="376.2" font-family="Liberation Serif, serif" font-size="15" text-anchor="middle">284</text>
<text x="491" y="376.2" font-family="Liberation Serif, serif" font-size="15" text-anchor="middle">282</text>
<text x="623.2" y="381.7" font-family="Liberation Serif, serif" font-size="15" text-anchor="middle">290</text>
<text x="714.8" y="381.7" font-family="Liberation Serif, serif" font-size="15" text-anchor="middle">288</text>
<text x="806.7" y="381.7" font-family="Liberation Serif, serif" font-size="15" text-anchor="middle">286</text>
<text x="898.4" y="381.7" font-family="Liberation Serif, serif" font-size="15" text-anchor="middle">284</text>
<text x="994" y="381.7" font-family="Liberation Serif, serif" font-size="15" text-anchor="middle">282</text>
<text x="192" y="397" font-family="Liberation Serif, serif" font-size="19.6" textLength="160" lengthAdjust="spacingAndGlyphs">Binding Energy(eV)</text>
<text x="719" y="412.4" font-family="Liberation Serif, serif" font-size="19.6" textLength="159" lengthAdjust="spacingAndGlyphs">Binding Energy(eV)</text>
<text transform="translate(51.2,242.7) rotate(-90)" font-family="Liberation Serif, serif" font-size="25.5" stroke="#000" stroke-width="0.3" textLength="145.6" lengthAdjust="spacingAndGlyphs">Intensity(a.u.)</text>
<text transform="translate(552,253.8) rotate(-90)" font-family="Liberation Serif, serif" font-size="25.5" stroke="#000" stroke-width="0.3" textLength="147.3" lengthAdjust="spacingAndGlyphs">Intensity(a.u.)</text>
<text transform="translate(352.1,41.9) scale(0.92,1.05)" font-family="Liberation Sans, sans-serif" font-size="18.4" fill="#111">C</text><line x1="368.4" y1="28.3" x2="368.4" y2="41.5" stroke="#111" stroke-width="1.45"/><line x1="373.6" y1="28.3" x2="373.6" y2="41.5" stroke="#111" stroke-width="1.45"/><line x1="378.3" y1="28.3" x2="378.3" y2="41.5" stroke="#111" stroke-width="1.45"/>
<text transform="translate(268.3,249.4) scale(0.92,1.05)" font-family="Liberation Sans, sans-serif" font-size="18.4" fill="#111">C</text><line x1="288.4" y1="235.7" x2="288.4" y2="248.9" stroke="#111" stroke-width="1.45"/><line x1="292.7" y1="235.7" x2="292.7" y2="248.9" stroke="#111" stroke-width="1.45"/>
<text transform="translate(164.6,258.40000000000003) scale(0.92,1.05)" font-family="Liberation Sans, sans-serif" font-size="18.4" fill="#111">C</text><line x1="186.4" y1="244.6" x2="186.4" y2="258.3" stroke="#111" stroke-width="1.45"/>
<text transform="translate(861.7,41.3) scale(0.92,1.05)" font-family="Liberation Sans, sans-serif" font-size="18.4" fill="#111">C</text><line x1="878.0" y1="28.9" x2="878.0" y2="41.2" stroke="#111" stroke-width="1.45"/><line x1="883.3" y1="28.9" x2="883.3" y2="41.2" stroke="#111" stroke-width="1.45"/><line x1="888.4" y1="28.9" x2="888.4" y2="41.2" stroke="#111" stroke-width="1.45"/>
<text transform="translate(778.1,283.6) scale(0.92,1.05)" font-family="Liberation Sans, sans-serif" font-size="18.4" fill="#111">C</text><line x1="797.8" y1="269.9" x2="797.8" y2="283.3" stroke="#111" stroke-width="1.45"/><line x1="802.5" y1="269.9" x2="802.5" y2="283.3" stroke="#111" stroke-width="1.45"/>
<text transform="translate(685.6,283.6) scale(0.92,1.05)" font-family="Liberation Sans, sans-serif" font-size="18.4" fill="#111">C</text><line x1="707.2" y1="269.4" x2="707.2" y2="283.5" stroke="#111" stroke-width="1.45"/>
</g>
</svg>
</body></html>
